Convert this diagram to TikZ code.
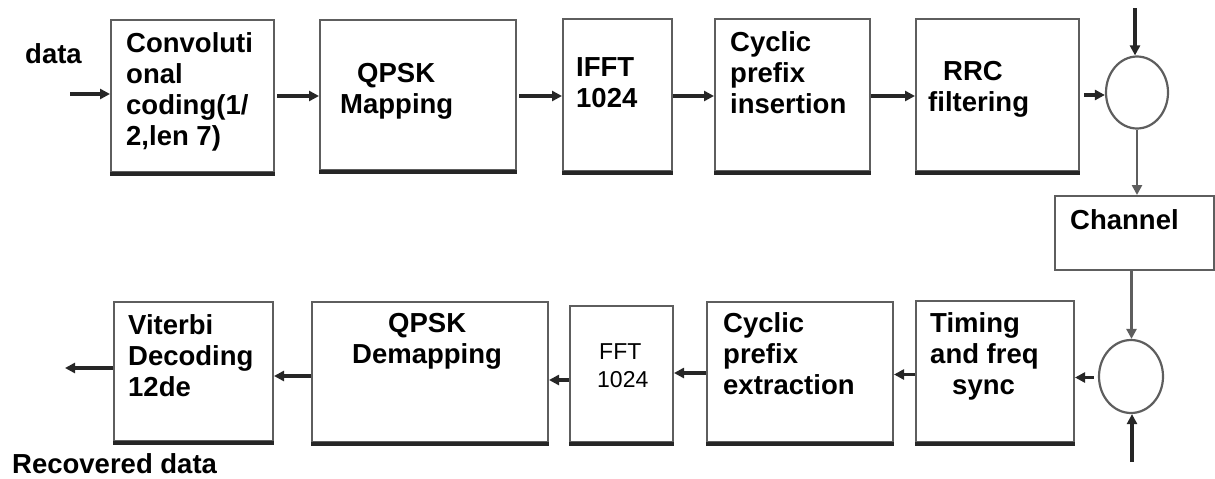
\documentclass[tikz,border=0pt]{standalone}
\usepackage{fontspec}
\setmainfont{Liberation Sans}
\usetikzlibrary{arrows.meta,shapes.geometric,calc}
\definecolor{edge}{HTML}{5E5E5E}
\definecolor{ink}{HTML}{262626}
\begin{document}
\begin{tikzpicture}[x=1pt,y=-1pt,
  blk/.style={draw=edge,line width=2pt,fill=white,rectangle,inner sep=0pt},
  sum/.style={draw=edge,line width=2.2pt,ellipse,inner sep=0pt,fill=white},
  lbl/.style={anchor=north west,inner sep=0pt,align=left,font=\bfseries\fontsize{27.5}{31}\selectfont},
  thin/.style={anchor=north west,inner sep=0pt,align=left,font=\fontsize{23}{28}\selectfont},
  flow/.style={draw=ink,line width=3.2pt,-{Triangle[length=10pt,width=10pt]}},
  feed/.style={draw=edge,line width=2.8pt,-{Triangle[length=10pt,width=10pt]}}]
\useasboundingbox (0,0) rectangle (1215,479);

% transmitter chain
\node[blk,minimum width=163,minimum height=152] (conv) at (192.5,96) {};
\node[blk,minimum width=196,minimum height=150] (qmap) at (418,95) {};
\node[blk,minimum width=109,minimum height=152] (ifft) at (617.5,95) {};
\node[blk,minimum width=155,minimum height=152] (cpi) at (792.5,95) {};
\node[blk,minimum width=163,minimum height=152] (rrc) at (997.5,95) {};
\node[sum,minimum width=62,minimum height=72] (add1) at (1137,92.5) {};
\node[blk,minimum width=159,minimum height=74] (chan) at (1134.5,233) {};

% receiver chain
\node[sum,minimum width=64,minimum height=73] (add2) at (1131,376.5) {};
\node[blk,minimum width=158,minimum height=141] (sync) at (995,371.5) {};
\node[blk,minimum width=186,minimum height=140] (cpe) at (800,372) {};
\node[blk,minimum width=103,minimum height=136] (fft) at (621.5,374) {};
\node[blk,minimum width=236,minimum height=140] (qdem) at (430,372) {};
\node[blk,minimum width=159,minimum height=139] (vit) at (193.5,371.5) {};

% heavier lower edge of every block
\foreach \b in {conv,qmap,ifft,cpi,rrc,sync,cpe,fft,qdem,vit}
  \draw[ink,line width=4pt] ([yshift=-1pt]\b.south west) -- ([yshift=-1pt]\b.south east);

% labels
\node[lbl] (tdata) at (25,43) {data};
\node[lbl] (tconv) at (126,32) {Convoluti\\onal\\coding(1/\\2,len 7)};
\node[lbl] (tqmap) at (340,63) {\hspace*{17pt}QPSK\\Mapping};
\node[lbl] (tifft) at (576,57) {IFFT\\1024};
\node[lbl] (tcpi) at (730,31) {Cyclic\\prefix\\insertion};
\node[lbl] (trrc) at (928,61) {\hspace*{15pt}RRC\\filtering};
\node[lbl] (tchan) at (1070,209) {Channel};
\node[lbl] (tsync) at (930,312) {Timing\\and freq\\\hspace*{22pt}sync};
\node[lbl] (tcpe) at (723,312) {Cyclic\\prefix\\extraction};
\node[thin] (tfft) at (597,343) {\hspace*{2pt}FFT\\1024};
\node[lbl] (tqdem) at (352,313) {\hspace*{36pt}QPSK\\Demapping};
\node[lbl] (tvit) at (128,314) {Viterbi\\Decoding\\12de};
\node[lbl] (trec) at (12,453) {Recovered data};

% free ends
\coordinate (src) at (70,94);
\coordinate (noise1) at (1135,8);
\coordinate (noise2) at (1132,462);
\coordinate (sink) at (65,368);

% connectors, transmitter
\draw[flow] (src) -- (src -| conv.west);
\draw[flow,shorten <=2pt] (conv.east) -- (conv.east -| qmap.west);
\draw[flow,shorten <=2pt] ([yshift=-1pt]qmap.east) -- ([yshift=-1pt]qmap.east -| ifft.west);
\draw[flow] ([yshift=-1pt]ifft.east) -- ([yshift=-1pt]ifft.east -| cpi.west);
\draw[flow] ([yshift=-1pt]cpi.east) -- ([yshift=-1pt]cpi.east -| rrc.west);
\draw[flow,shorten <=4pt] (rrc.east) -- (rrc.east -| add1.west);
\draw[flow] (noise1) -- (noise1 |- add1.north);
\draw[feed] (add1.south) -- (add1.south |- chan.north);

% connectors, receiver
\draw[feed] ([xshift=-3pt]chan.south) -- ([xshift=-3pt]chan.south |- add2.north);
\draw[flow] (noise2) -- (noise2 |- add2.south);
\draw[flow,shorten <=4pt] ([yshift=-1pt]add2.west) -- ([yshift=-1pt]add2.west -| sync.east);
\draw[flow] ([yshift=-3pt]sync.west) -- ([yshift=-3pt]sync.west -| cpe.east);
\draw[flow] ([yshift=-1pt]cpe.west) -- ([yshift=-1pt]cpe.west -| fft.east);
\draw[flow] ([yshift=-6pt]fft.west) -- ([yshift=-6pt]fft.west -| qdem.east);
\draw[flow] ([yshift=-4pt]qdem.west) -- ([yshift=-4pt]qdem.west -| vit.east);
\draw[flow] (sink -| vit.west) -- (sink);
\end{tikzpicture}
\end{document}
